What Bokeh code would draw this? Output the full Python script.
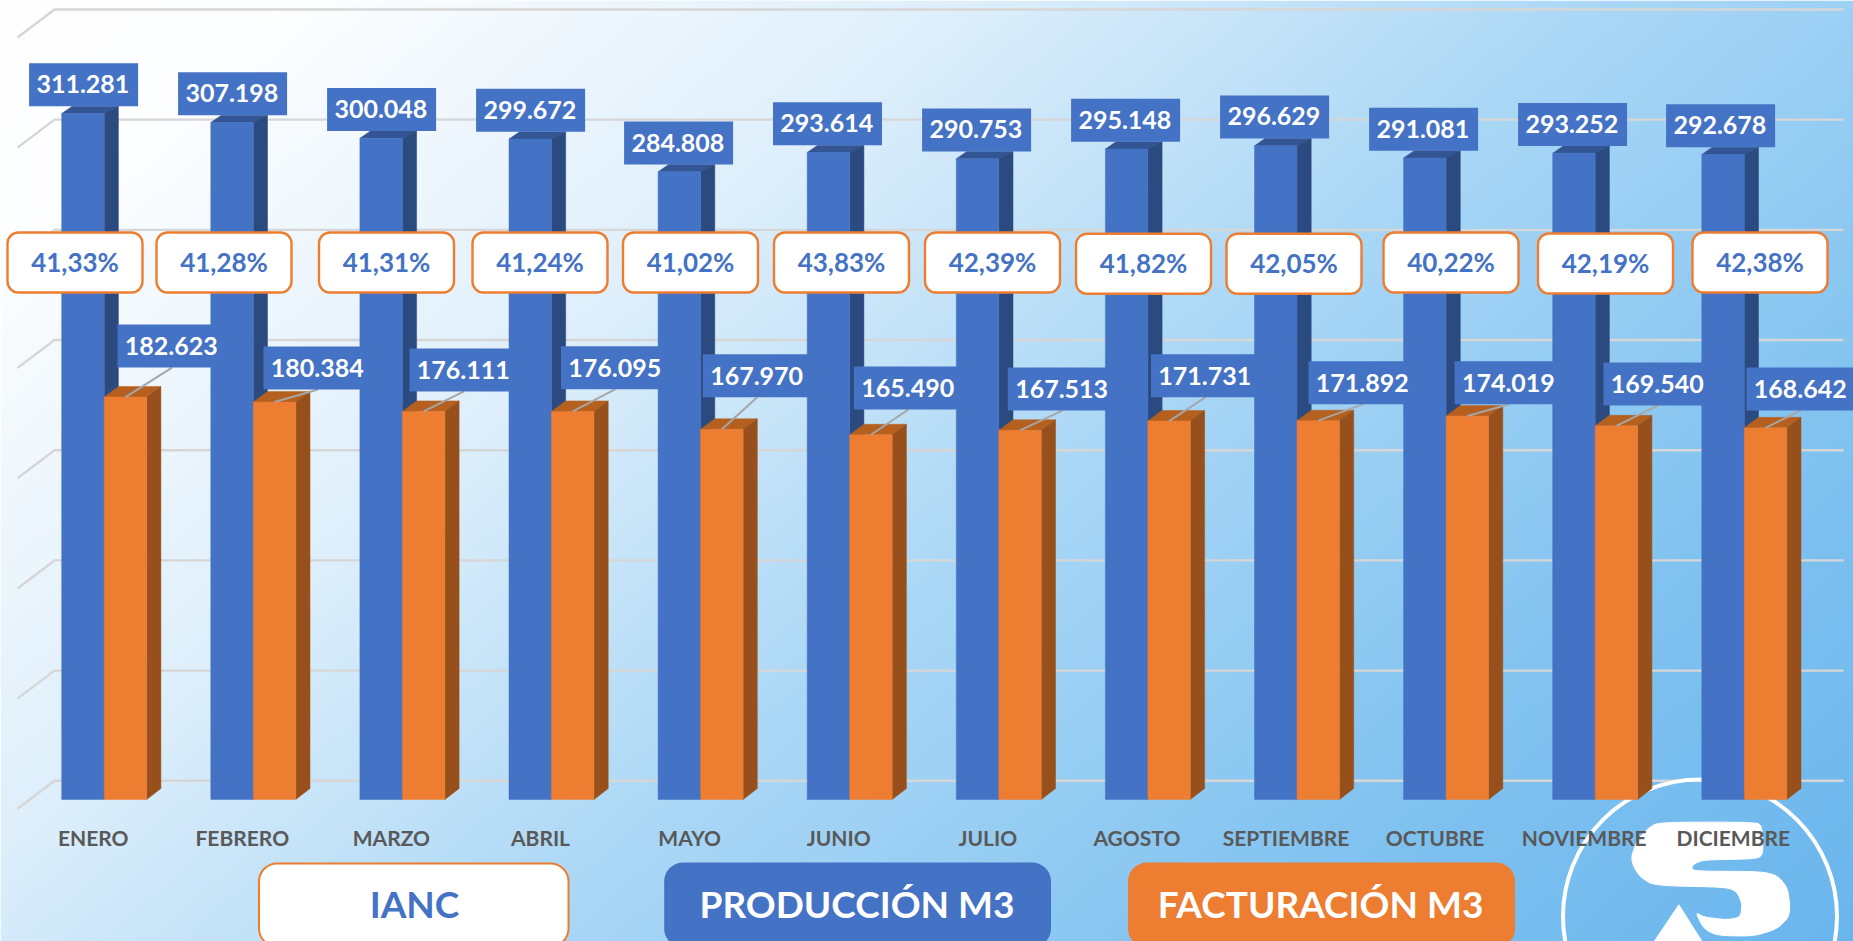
import numpy as np
from bokeh.plotting import figure
from bokeh.models import Range1d
from bokeh.core.properties import value
from bokeh.embed import file_html
from bokeh.resources import INLINE

# ---------- data ----------
months = ["ENERO", "FEBRERO", "MARZO", "ABRIL", "MAYO", "JUNIO", "JULIO", "AGOSTO",
          "SEPTIEMBRE", "OCTUBRE", "NOVIEMBRE", "DICIEMBRE"]
produccion = [311281, 307198, 300048, 299672, 284808, 293614, 290753, 295148, 296629, 291081, 293252, 292678]
facturacion = [182623, 180384, 176111, 176095, 167970, 165490, 167513, 171731, 171892, 174019, 169540, 168642]
ianc = ["41,33%", "41,28%", "41,31%", "41,24%", "41,02%", "43,83%", "42,39%", "41,82%", "42,05%", "40,22%", "42,19%", "42,38%"]
grid_values = [0, 50000, 100000, 150000, 200000, 250000, 300000, 350000]
legend_names = ["IANC", "PRODUCCIÓN M3", "FACTURACIÓN M3"]

# ---------- layout (page pixels of the reference) ----------
W, H = 1853, 941
MARGIN = 0
BASE = 799.0
S = 0.0022038          # px per unit
X0, STEP = 103.7, 149.1  # centre of first month group, month spacing
BAR = 42.5
ORANGE_LABEL_DX = [67.8, 64.7, 61.6, 64.0, 56.7, 58.7, 63.5, 57.6, 66.0, 63.0, 62.8, 56.7]
ORANGE_LABEL_DY = [29.5, 12.5, 20, 22.2, 32, 25.3, 19.8, 23.8, 16.5, 11.8, 20.4, 17.4]
BLUE_LABEL_DX = [-20.6, -20.7, -20.8, -20.9, -22.0, -22.2, -22.2, -22.3, -22.4, -22.5, -22.6, -23.7]
IANC_CX = [74.5, 223.5, 386, 539.5, 690, 841, 992, 1143, 1293.5, 1450.5, 1605, 1759.5]
IANC_CY = [262, 262, 262, 262, 262, 262, 262, 263.3, 263.3, 262, 263, 262]
LEG_L = [258.5, 664.7, 1128.5]
LEG_R = [568, 1049.5, 1513.5]
LEG_TX = [414, 856.5, 1320]
FONT = value("Lato")
BLUE, BLUE_TOP, BLUE_SIDE = "#4472C4", "#335593", "#2B4A7F"
OR, OR_TOP, OR_SIDE = "#ED7D31", "#B5601F", "#97501B"

def px(x):   # page x -> month axis
    return (np.asarray(x, dtype=float) - X0) / STEP
def vy(y):   # page y -> value axis
    return (BASE - np.asarray(y, dtype=float)) / S
DX = 1 / STEP
DV = 1 / S

p = figure(width=W, height=H, output_backend="svg", toolbar_location=None, min_border=0,
           x_range=Range1d(float(px(MARGIN)), float(px(MARGIN + W))),
           y_range=Range1d(float(vy(MARGIN + H)), float(vy(MARGIN))))
p.axis.visible = False
p.grid.visible = False
p.outline_line_color = None

# ---------- background gradient ----------
xs = np.linspace(MARGIN, MARGIN + W, W // 2)
ys = np.linspace(MARGIN, MARGIN + H, H // 2)
gx, gy = np.meshgrid(xs, ys)
t = (gx + 1.15 * gy) / (1853 + 1.15 * 941)
stops_t = [0, 0.10, 0.33, 0.55, 0.80, 1.0]
stops_c = np.array([[255, 255, 255], [253, 254, 255], [222, 239, 251], [170, 215, 246], [128, 194, 240], [106, 182, 238]])
img = np.zeros(gx.shape + (4,), dtype=np.uint8)
for k in range(3):
    img[..., k] = np.interp(t, stops_t, stops_c[:, k])
img[..., 3] = 255
img = img[::-1]
rgba = img.view(np.uint32).reshape(gx.shape)
p.image_rgba(image=[rgba], x=float(px(MARGIN)), y=float(vy(MARGIN + H)),
             dw=float(W * DX), dh=float(H * DV))

# ---------- gridlines (back plane plus side wall) ----------
back = 18.7 * DV
gxs, gys = [], []
for g in grid_values:
    gxs.append([px(17), px(54), px(1843)])
    gys.append([g + back - 28 * DV, g + back, g + back])
p.multi_line(gxs, gys, line_color="#D6D6D6", line_width=2.4)

# ---------- logo behind the bars ----------
def smooth(a, b, n=2):
    pts = np.column_stack([a, b]).astype(float)
    for _ in range(n):
        nxt = np.roll(pts, -1, axis=0)
        pts = np.column_stack([0.8 * pts + 0.2 * nxt, 0.2 * pts + 0.8 * nxt]).reshape(-1, 2)
    return pts[:, 0], pts[:, 1]

p.circle(x=[float(px(1699.5))], y=[float(vy(916))], radius=137 * DX, fill_color=None, line_color="white", line_width=4)
zx = [355, 650, 665, 668, 650, 490, 460, 452, 470, 660, 710, 740, 748, 745, 710, 640, 530, 490, 465,
      490, 560, 600, 605, 590, 560, 340, 300, 280, 272, 290, 320]
zy = [155, 155, 170, 250, 265, 268, 280, 295, 302, 303, 315, 350, 400, 440, 475, 497, 495, 475, 425,
      440, 448, 440, 400, 365, 350, 345, 320, 290, 260, 210, 175]
sx, sy = smooth(zx, zy)
p.patch(px(sx / 3 + 1540), vy(sy / 3 + 770), fill_color="white", line_color="white", line_width=1)
tx = [415, 505, 320]
ty = [403, 545, 545]
p.patch(px(np.array(tx) / 3 + 1540), vy(np.array(ty) / 3 + 770), fill_color="white", line_color="white", line_width=1)

# ---------- 3D bars ----------
def bars(vals, left_off, top_dy, top_left_dx, front, top, side):
    depth = 14.2 * DX
    base = 0.0
    bot_dy = 11 * DV
    for i, v in enumerate(vals):
        xl = i + left_off
        xr = xl + BAR * DX
        dy = top_dy * DV
        p.patch([xl, xl + top_left_dx * DX, xr + depth, xr], [v, v + dy, v + dy, v], fill_color=top, line_color=top, line_width=0.5)
        p.patch([xr, xr + depth, xr + depth, xr], [v, v + dy, base + bot_dy, base], fill_color=side, line_color=side, line_width=0.5)
        p.vbar(x=[xl + BAR * DX / 2], top=[v], bottom=[base], width=BAR * DX, fill_color=front, line_color=front, line_width=0.5)

bars(produccion, -BAR * DX, 7.3, 10.5, BLUE, BLUE_TOP, BLUE_SIDE)
bars(facturacion, 0.0, 10.5, 14.2, OR, OR_TOP, OR_SIDE)

# ---------- data labels ----------
BOX_W, BOX_H = 109 * DX, 43 * DV
idx = np.arange(12)
blue_x = idx + np.array(BLUE_LABEL_DX) * DX
blue_bot = np.array(produccion) + 7.3 * DV
or_x = idx + np.array(ORANGE_LABEL_DX) * DX
or_bot = np.array(facturacion) + np.array(ORANGE_LABEL_DY) * DV

# leader lines
front_c = idx + BAR * DX / 2
p.segment(front_c, facturacion, or_x, or_bot, line_color="#A6A6A6", line_width=2)

p.quad(left=blue_x - BOX_W / 2, right=blue_x + BOX_W / 2, bottom=blue_bot, top=blue_bot + BOX_H, fill_color=BLUE, line_color=None)
p.quad(left=or_x - BOX_W / 2, right=or_x + BOX_W / 2, bottom=or_bot, top=or_bot + BOX_H, fill_color=BLUE, line_color=None)

fmt = lambda v: f"{v:,}".replace(",", ".")
p.text(blue_x - 0.7 * DX, blue_bot + BOX_H / 2 + 0.5 * DV, text=[fmt(v) for v in produccion], text_color="white", text_font=FONT,
       text_font_style="bold", text_font_size="25px", text_align="center", text_baseline="middle")
p.text(or_x - 0.7 * DX, or_bot + BOX_H / 2, text=[fmt(v) for v in facturacion], text_color="white", text_font=FONT,
       text_font_style="bold", text_font_size="25px", text_align="center", text_baseline="middle")

# ---------- IANC boxes ----------
cx = px(IANC_CX)
cy = vy(IANC_CY)
p.quad(left=cx - 67.5 * DX, right=cx + 67.5 * DX, bottom=cy - 30 * DV, top=cy + 30 * DV, fill_color="white",
       line_color=OR, line_width=2.4, border_radius=11)
p.text(cx, cy + 0.5 * DV, text=ianc, text_color=BLUE, text_font=FONT, text_font_style="bold", text_font_size="26px",
       text_align="center", text_baseline="middle")

# ---------- month labels ----------
p.text(idx - 11 * DX, [float(vy(837))] * 12, text=months, text_color="#595959", text_font=FONT, text_font_style="bold",
       text_font_size="21px", text_align="center", text_baseline="middle")

# ---------- legend ----------
top, bot = float(vy(863)), float(vy(946))
p.quad(left=px(LEG_L), right=px(LEG_R), bottom=[bot] * 3, top=[top] * 3,
       fill_color=["white", BLUE, OR], line_color=[OR, BLUE, OR], line_width=2, border_radius=18)
p.text(px(LEG_TX), [float(vy(903))] * 3, text=legend_names, text_color=[BLUE, "white", "white"], text_font=FONT,
       text_font_style="bold", text_font_size="37px", text_align="center", text_baseline="middle")

open("out.html", "w").write(file_html(p, INLINE))
